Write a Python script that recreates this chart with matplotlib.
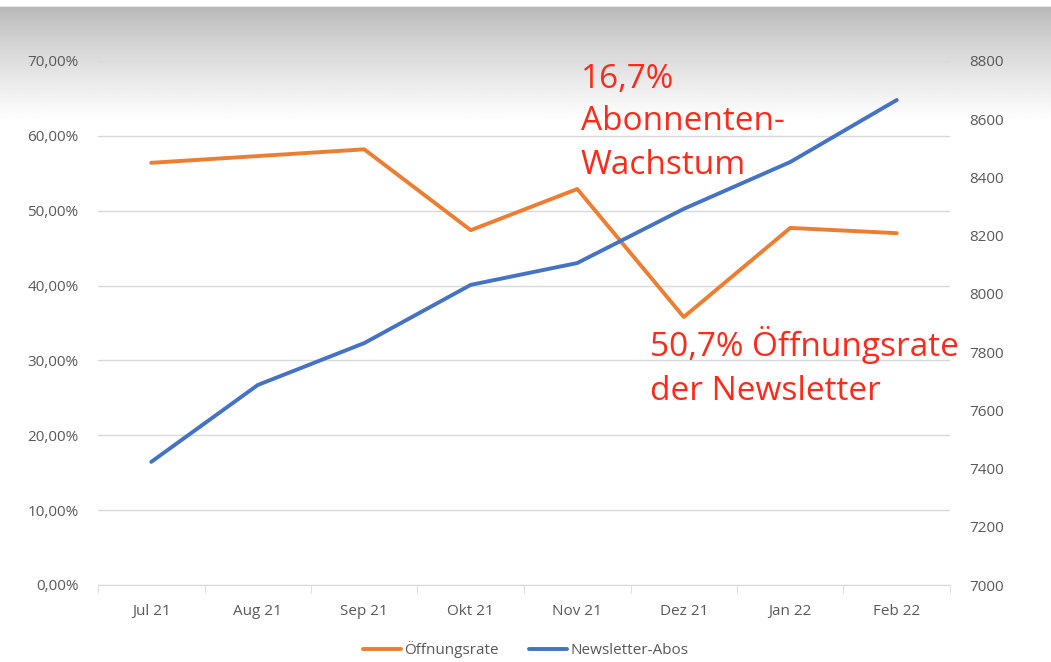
import matplotlib
matplotlib.use("Agg")
import matplotlib.pyplot as plt
import matplotlib.ticker as mtick
import numpy as np

months = ["Jul 21", "Aug 21", "Sep 21", "Okt 21", "Nov 21", "Dez 21", "Jan 22", "Feb 22"]
open_rate = [56.4, 57.3, 58.2, 47.4, 52.9, 35.8, 47.7, 47.0]
subscribers = [7423, 7687, 7831, 8031, 8106, 8292, 8453, 8666]

orange = "#ED7D31"
blue = "#4472C4"
grey_txt = "#595959"
red = "#FF2A1A"

plt.rcParams['font.family'] = ['Open Sans', 'DejaVu Sans']

fig = plt.figure(figsize=(10.51, 6.62), dpi=100)

# grey gradient band at the top
bg = fig.add_axes([0, 0, 1, 1], zorder=0)
bg.set_axis_off()
top, fade = 1 - 5 / 662, 1 - 120 / 662
ys = np.linspace(0, 1, 400)
vals = np.where(ys > top, 1.0, np.where(ys < fade, 1.0, 0.71 + 0.29 * ((top - ys) / (top - fade)) ** 0.8))
img = np.tile(vals[:, None], (1, 2))
bg.imshow(img, cmap="gray", vmin=0, vmax=1, aspect="auto", origin="lower", extent=[0, 1, 0, 1])
bg.set_xlim(0, 1)
bg.set_ylim(0, 1)

ax1 = fig.add_axes([98 / 1051, 1 - 585 / 662, (950 - 98) / 1051, (585 - 61) / 662], zorder=1)
ax1.patch.set_alpha(0)
x = np.arange(len(months))

ax1.plot(x, open_rate, color=orange, linewidth=2.8, label="Öffnungsrate", solid_capstyle="round", zorder=3)
ax1.set_ylim(0, 70)
ax1.set_yticks(np.arange(0, 71, 10))
ax1.yaxis.set_major_formatter(mtick.FuncFormatter(lambda v, p: f"{v:.2f}%".replace(".", ",")))
ax1.grid(axis="y", color="#d9d9d9", linewidth=1)
ax1.set_axisbelow(True)
ax1.set_xlim(-0.5, len(months) - 0.5)
ax1.set_xticks(x)
ax1.set_xticklabels(months)
ax1.set_xticks(np.arange(-0.5, len(months), 1), minor=True)
ax1.tick_params(axis="x", which="major", length=0, pad=14, labelsize=11, labelcolor=grey_txt)
ax1.tick_params(axis="x", which="minor", length=6, color="#d9d9d9")
ax1.tick_params(axis="y", length=0, pad=14, labelsize=11, labelcolor=grey_txt)
for s in ["top", "right", "left"]:
    ax1.spines[s].set_visible(False)
ax1.spines["bottom"].set_color("#d9d9d9")

ax2 = ax1.twinx()
ax2.plot(x, subscribers, color=blue, linewidth=2.8, label="Newsletter-Abos", solid_capstyle="round", zorder=3)
ax2.set_ylim(7000, 8800)
ax2.set_yticks(np.arange(7000, 8801, 200))
ax2.tick_params(axis="y", length=0, pad=14, labelsize=11, labelcolor=grey_txt)
for s in ["top", "right", "left", "bottom"]:
    ax2.spines[s].set_visible(False)

lines = ax1.get_legend_handles_labels()[0] + ax2.get_legend_handles_labels()[0]
labels = [l.get_label() for l in lines]
fig.legend(lines, labels, loc="center", bbox_to_anchor=(0.5, 1 - 650 / 662), ncol=2,
           frameon=False, fontsize=11, labelcolor=grey_txt, handlelength=2.5,
           handletextpad=0.2, columnspacing=2.0)

fig.text(581 / 1051, 1 - 122 / 662, "16,7%\nAbonnenten-\nWachstum", color=red, fontsize=24,
         va="center", ha="left", linespacing=1.4)
fig.text(650 / 1051, 1 - 367 / 662, "50,7% Öffnungsrate\nder Newsletter", color=red, fontsize=24,
         va="center", ha="left", linespacing=1.4)

fig.savefig("out.png", dpi=100)
